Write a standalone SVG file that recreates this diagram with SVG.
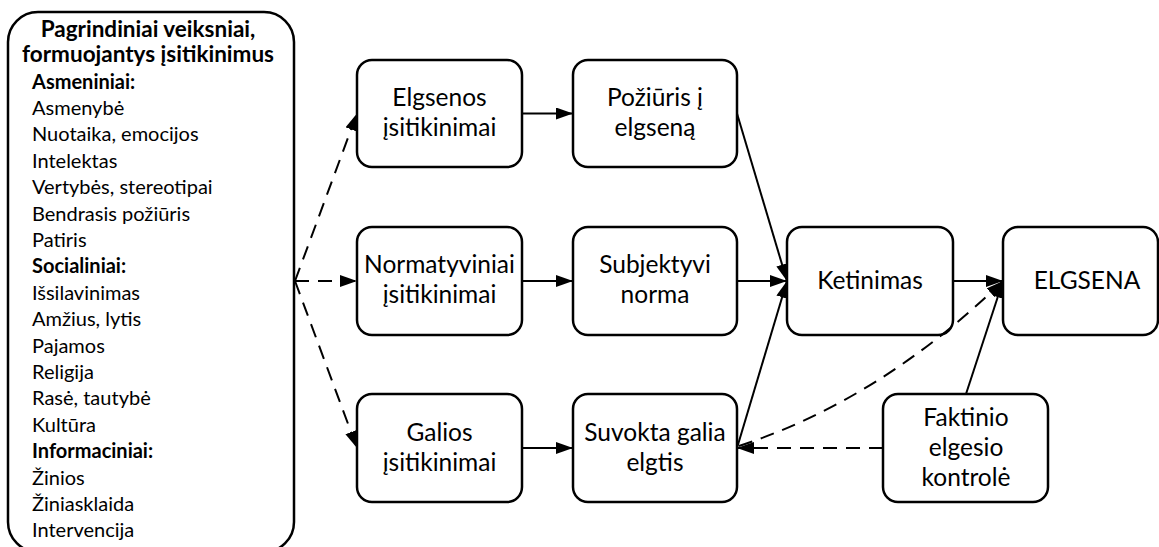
<svg xmlns="http://www.w3.org/2000/svg" width="1159" height="547" viewBox="0 0 1159 547">
  <style>
    .box { fill: #fff; stroke: #000; stroke-width: 2.5; }
    .lbl { font-family: Lato, "Liberation Sans", sans-serif; font-size: 24.5px; fill: #000; text-anchor: middle; }
    .lst { font-family: Lato, "Liberation Sans", sans-serif; font-size: 20px; fill: #000; }
    .ttl { font-family: Lato, "Liberation Sans", sans-serif; font-size: 22.5px; font-weight: bold; fill: #000; text-anchor: middle; }
    .hd { font-weight: bold; }
    .ln { fill: none; stroke: #000; stroke-width: 2; }
    .dash { stroke-dasharray: 14 9; }
    .arr { marker-end: url(#head); }
  </style>
  <defs>
    <marker id="head" markerUnits="userSpaceOnUse" markerWidth="18" markerHeight="14" refX="17" refY="6" orient="auto">
      <path d="M0,0 L17,6 L0,12 z" fill="#000"/>
    </marker>
  </defs>
  <rect width="1159" height="547" fill="#fff"/>

  <!-- factors panel -->
  <g id="factors">
    <rect class="box" x="8" y="12" width="286" height="540" rx="30" ry="30"/>
    <text class="ttl" x="148" y="37">Pagrindiniai veiksniai,</text>
    <text class="ttl" x="148" y="62">formuojantys įsitikinimus</text>
    <text class="lst hd" x="32" y="88.5">Asmeniniai:</text>
    <text class="lst" x="32" y="114.9">Asmenybė</text>
    <text class="lst" x="32" y="141.3">Nuotaika, emocijos</text>
    <text class="lst" x="32" y="167.7">Intelektas</text>
    <text class="lst" x="32" y="194.1">Vertybės, stereotipai</text>
    <text class="lst" x="32" y="220.5">Bendrasis požiūris</text>
    <text class="lst" x="32" y="246.9">Patiris</text>
    <text class="lst hd" x="32" y="273.3">Socialiniai:</text>
    <text class="lst" x="32" y="299.7">Išsilavinimas</text>
    <text class="lst" x="32" y="326.1">Amžius, lytis</text>
    <text class="lst" x="32" y="352.5">Pajamos</text>
    <text class="lst" x="32" y="378.9">Religija</text>
    <text class="lst" x="32" y="405.3">Rasė, tautybė</text>
    <text class="lst" x="32" y="431.7">Kultūra</text>
    <text class="lst hd" x="32" y="458.1">Informaciniai:</text>
    <text class="lst" x="32" y="484.5">Žinios</text>
    <text class="lst" x="32" y="510.9">Žiniasklaida</text>
    <text class="lst" x="32" y="537.3">Intervencija</text>
  </g>

  <!-- belief nodes -->
  <g id="behavioral-beliefs">
    <rect class="box" x="357" y="60" width="165" height="107" rx="15"/>
    <text class="lbl" x="439.5" y="106">Elgsenos</text>
    <text class="lbl" x="439.5" y="136">įsitikinimai</text>
  </g>
  <g id="normative-beliefs">
    <rect class="box" x="357" y="227" width="165" height="108" rx="15"/>
    <text class="lbl" x="439.5" y="273">Normatyviniai</text>
    <text class="lbl" x="439.5" y="303">įsitikinimai</text>
  </g>
  <g id="control-beliefs">
    <rect class="box" x="357" y="394" width="165" height="108" rx="15"/>
    <text class="lbl" x="439.5" y="441">Galios</text>
    <text class="lbl" x="439.5" y="471">įsitikinimai</text>
  </g>

  <!-- attitude / norm / perceived control -->
  <g id="attitude">
    <rect class="box" x="573" y="60" width="164" height="107" rx="15"/>
    <text class="lbl" x="655" y="106">Požiūris į</text>
    <text class="lbl" x="655" y="136">elgseną</text>
  </g>
  <g id="subjective-norm">
    <rect class="box" x="573" y="227" width="164" height="108" rx="15"/>
    <text class="lbl" x="655" y="273">Subjektyvi</text>
    <text class="lbl" x="655" y="303">norma</text>
  </g>
  <g id="perceived-control">
    <rect class="box" x="573" y="394" width="164" height="108" rx="15"/>
    <text class="lbl" x="655" y="441">Suvokta galia</text>
    <text class="lbl" x="655" y="471">elgtis</text>
  </g>

  <!-- intention, behaviour, actual control -->
  <g id="intention">
    <rect class="box" x="787" y="227" width="166" height="108" rx="15"/>
    <text class="lbl" x="870" y="289">Ketinimas</text>
  </g>
  <g id="behaviour">
    <rect class="box" x="1003" y="227" width="155" height="108" rx="15"/>
    <text class="lbl" x="1087" y="289">ELGSENA</text>
  </g>
  <g id="actual-control">
    <rect class="box" x="883" y="394" width="165" height="108" rx="15"/>
    <text class="lbl" x="966" y="426">Faktinio</text>
    <text class="lbl" x="966" y="456">elgesio</text>
    <text class="lbl" x="966" y="486">kontrolė</text>
  </g>

  <!-- connectors -->
  <g id="connectors">
    <path class="ln dash arr" d="M295,281 L357,281"/>
    <path class="ln dash arr" d="M295,281 L357,113.5"/>
    <path class="ln dash arr" d="M295,281 L357,448"/>
    <path class="ln arr" d="M522,113.5 L573,113.5"/>
    <path class="ln arr" d="M522,281 L573,281"/>
    <path class="ln arr" d="M522,448 L573,448"/>
    <path class="ln arr" d="M737,113.5 L787,281"/>
    <path class="ln arr" d="M737,281 L787,281"/>
    <path class="ln arr" d="M737,448 L787,281"/>
    <path class="ln arr" d="M953,281 L1003,281"/>
    <path class="ln arr" d="M966,394 L1003,281"/>
    <path class="ln dash arr" d="M883,448 L737,448"/>
    <path class="ln dash arr" d="M739,446 Q880,400 1003,281"/>
  </g>
</svg>
